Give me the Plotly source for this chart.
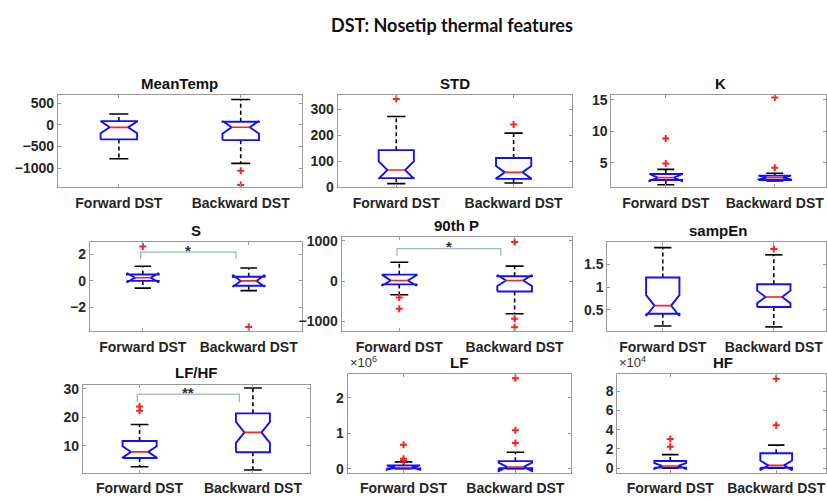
import plotly.graph_objects as go

W, H = 827, 501

groups = ["Forward DST", "Backward DST"]
features = ["MeanTemp", "STD", "K", "S", "90th P", "sampEn", "LF/HF", "LF", "HF"]

lower_whisker = {"MeanTemp": [-785, -890], "STD": [15, 17], "K": [1.53, 2.15], "S": [-0.55, -0.74],
                 "90th P": [-340, -813], "sampEn": [0.14, 0.12], "LF/HF": [2.6, 1.5],
                 "LF": [0, 0], "HF": [0, 0]}
q1 = {"MeanTemp": [-335, -352], "STD": [36, 33], "K": [2.3, 2.3], "S": [0.0, -0.37],
      "90th P": [-82, -260], "sampEn": [0.41, 0.56], "LF/HF": [5.7, 7.7],
      "LF": [5000, 10000], "HF": [700, 500]}
median = {"MeanTemp": [-55, -54], "STD": [67, 58], "K": [2.67, 2.67], "S": [0.24, 0.0],
          "90th P": [15, 15], "sampEn": [0.59, 0.78], "LF/HF": [7.85, 14.7],
          "LF": [30000, 47000], "HF": [2400, 3000]}
q3 = {"MeanTemp": [90, 74], "STD": [143, 113], "K": [3.25, 2.98], "S": [0.49, 0.32],
      "90th P": [161, 120], "sampEn": [1.21, 1.06], "LF/HF": [11.7, 21.4],
      "LF": [90000, 210000], "HF": [7500, 15600]}
upper_whisker = {"MeanTemp": [255, 590], "STD": [272, 208], "K": [3.97, 3.35], "S": [1.11, 0.98],
                 "90th P": [468, 373], "sampEn": [1.87, 1.71], "LF/HF": [17.5, 30.3],
                 "LF": [190000, 460000], "HF": [14200, 24000]}
notch_half = {"MeanTemp": [135, 148], "STD": [33, 24], "K": [0.55, 0.3], "S": [0.35, 0.45],
              "90th P": [130, 136], "sampEn": [0.23, 0.14], "LF/HF": [2.0, 3.7],
              "LF": [60000, 120000], "HF": [3000, 5100]}
outliers = {"MeanTemp": [[], [-1060, -1390]], "STD": [[339], [241]],
            "K": [[8.88, 4.9], [15.35, 4.22]], "S": [[2.62], [-3.5]],
            "90th P": [[-405, -689], [970, -934, -1145]], "sampEn": [[], [1.84]],
            "LF/HF": [[23.8, 22.3], []],
            "LF": [[670000, 275000, 230000], [2550000, 1080000, 720000]],
            "HF": [[30400, 22300], [92900, 44600]]}

# significance brackets: feature -> (label, top y, leg end y)
significance = {"S": ("*", 2.19, 1.66), "90th P": ("*", 810, 632), "LF/HF": ("**", 28.2, 25.3)}

# layout of each panel: pixel box (x0, x1, y0, y1), y range, y ticks, tick labels, x range end
panels = {
    "MeanTemp": ((58, 302, 93, 188), [-1450, 700], [-1000, -500, 0, 500],
                 ["\u22121000", "\u2212500", "0", "500"], 2.5),
    "STD": ((338, 573, 93, 188), [0, 355], [0, 100, 200, 300], ["0", "100", "200", "300"], 2.5),
    "K": ((612, 827, 93, 188), [1.1, 15.8], [5, 10, 15], ["5", "10", "15"], 2.47),
    "S": ((90, 302, 244, 335), [-3.8, 2.94], [-2, 0, 2], ["\u22122", "0", "2"], 2.5),
    "90th P": ((342, 573, 239, 335), [-1240, 1090], [-1000, 0, 1000],
               ["\u22121000", "0", "1000"], 2.5),
    "sampEn": ((608, 827, 244, 335), [0.03, 1.99], [0.5, 1, 1.5], ["0.5", "1", "1.5"], 2.47),
    "LF/HF": ((83, 310, 390, 480), [0.6, 31.5], [10, 20, 30], ["10", "20", "30"], 2.5),
    "LF": ((348, 572, 379, 480), [-110000, 2670000], [0, 1e6, 2e6], ["0", "1", "2"], 2.5),
    "HF": ((618, 827, 379, 480), [-4400, 97900], [0, 2e4, 4e4, 6e4, 8e4],
           ["0", "2", "4", "6", "8"], 2.47),
}
exponents = {"LF": "\u00d710<sup>6</sup>", "HF": "\u00d710<sup>4</sup>"}

BOX_HW = 0.15     # half width of box
NOTCH_HW = 0.075  # half width at the notch
CAP_HW = 0.078

tick_font = dict(family="Liberation Sans, Arial", size=14, color="#262626", weight="bold")
title_font = dict(family="Liberation Sans, Arial", size=15, color="#111111", weight="bold")
axis_color = "#9a9a9a"

fig = go.Figure()
layout = {}
annotations = []

for i, f in enumerate(features, start=1):
    xa = "x" if i == 1 else f"x{i}"
    ya = "y" if i == 1 else f"y{i}"
    (px0, px1, py0, py1), yr, tv, tt, xend = panels[f]

    bx, by, mx, my, wx, wy, cx, cy, ox, oy = [], [], [], [], [], [], [], [], [], []
    for g in range(2):
        p = g + 1
        lo, a, m, b, hi, nh = (lower_whisker[f][g], q1[f][g], median[f][g], q3[f][g],
                               upper_whisker[f][g], notch_half[f][g])
        bx += [p - BOX_HW, p - BOX_HW, p - NOTCH_HW, p - BOX_HW, p - BOX_HW,
               p + BOX_HW, p + BOX_HW, p + NOTCH_HW, p + BOX_HW, p + BOX_HW, p - BOX_HW, None]
        by += [a, m - nh, m, m + nh, b, b, m + nh, m, m - nh, a, a, None]
        mx += [p - NOTCH_HW, p + NOTCH_HW, None]
        my += [m, m, None]
        wx += [p, p, None, p, p, None]
        wy += [b, hi, None, a, lo, None]
        cx += [p - CAP_HW, p + CAP_HW, None, p - CAP_HW, p + CAP_HW, None]
        cy += [hi, hi, None, lo, lo, None]
        ox += [p] * len(outliers[f][g])
        oy += outliers[f][g]

    common = dict(xaxis=xa, yaxis=ya, showlegend=False, hoverinfo="skip")
    fig.add_trace(go.Scatter(x=wx, y=wy, mode="lines",
                             line=dict(color="black", width=1.6, dash="4px,3px"), **common))
    fig.add_trace(go.Scatter(x=cx, y=cy, mode="lines", line=dict(color="black", width=1.6), **common))
    fig.add_trace(go.Scatter(x=bx, y=by, mode="lines", line=dict(color="#1010ff", width=1.9), **common))
    fig.add_trace(go.Scatter(x=mx, y=my, mode="lines", line=dict(color="#ff2020", width=1.6), **common))
    fig.add_trace(go.Scatter(x=ox, y=oy, mode="markers",
                             marker=dict(symbol="cross-thin", size=5, color="#ff2020",
                                         line=dict(color="#ff2020", width=2)), **common))

    if f in significance:
        lab, top, leg = significance[f]
        fig.add_trace(go.Scatter(x=[0.98, 0.98, 1.88, 1.88], y=[leg, top, top, leg], mode="lines",
                                 line=dict(color="#9fb3cf", width=1.3), **common))
        annotations.append(dict(x=1.43, y=top, xref=xa, yref=ya, text=lab, showarrow=False,
                                yanchor="middle", yshift=2,
                                font=dict(family="Liberation Sans, Arial", size=15,
                                          color="#333333", weight="bold")))

    dx = [px0 / W, px1 / W]
    dy = [1 - py1 / H, 1 - py0 / H]
    axkey = "xaxis" if i == 1 else f"xaxis{i}"
    aykey = "yaxis" if i == 1 else f"yaxis{i}"
    layout[axkey] = dict(domain=dx, anchor=ya, range=[0.5, xend], tickvals=[1, 2], ticktext=groups,
                         ticks="inside", ticklen=3, tickcolor=axis_color, showline=True,
                         linecolor=axis_color, linewidth=1, mirror="ticks", showgrid=False,
                         zeroline=False, tickfont=tick_font, fixedrange=True,
                         ticklabelstandoff=3)
    layout[aykey] = dict(domain=dy, anchor=xa, range=yr, tickvals=tv, ticktext=tt,
                         ticks="inside", ticklen=3, tickcolor=axis_color, showline=True,
                         linecolor=axis_color, linewidth=1, mirror="ticks", showgrid=False,
                         zeroline=False, tickfont=tick_font, fixedrange=True)
    full_w = (px1 - px0) / (xend - 0.5) * 2.0
    annotations.append(dict(x=(px0 + full_w / 2) / W,
                            y=1 - (py0 - 12) / H, xref="paper", yref="paper",
                            text=f, showarrow=False, yanchor="middle", xanchor="center",
                            font=title_font))
    if f in exponents:
        annotations.append(dict(x=px0 / W, y=1 - (py0 - 2) / H, xref="paper", yref="paper",
                                text=exponents[f], showarrow=False, xanchor="left", yanchor="bottom",
                                font=dict(family="Liberation Sans, Arial", size=13, color="#333333")))

annotations.append(dict(x=453 / W, y=1 - 22 / H, xref="paper", yref="paper",
                        text="<b>DST: Nosetip thermal features</b>", showarrow=False,
                        xanchor="center", yanchor="middle",
                        font=dict(family="Lato, Liberation Sans", size=18, color="#111111")))

fig.update_layout(width=W, height=H, margin=dict(l=0, r=0, t=0, b=0),
                  paper_bgcolor="white", plot_bgcolor="white",
                  annotations=annotations, **layout)

fig.write_html("out.html")
